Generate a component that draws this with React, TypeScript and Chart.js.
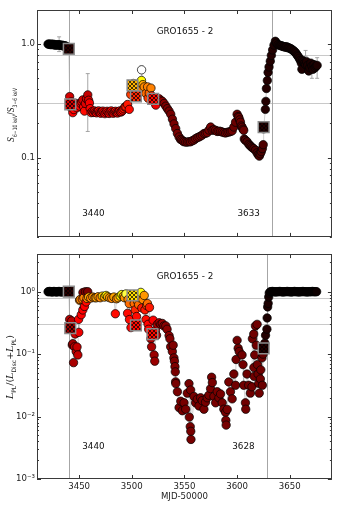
import React, { useEffect, useRef } from 'react';
import { Chart, registerables } from 'chart.js';
Chart.register(...registerables);

const FONT = "'DejaVu Sans', 'Liberation Sans', sans-serif";
const SERIF = "'DejaVu Serif', serif";

// ---------- shared axis settings ----------
const xMin = 3410;
const xMax = 3690;
const xTickValues = [3450, 3500, 3550, 3600, 3650];
const refLevels = [0.8, 0.3];
const panelTitle = 'GRO1655 - 2';
const xTitle = 'MJD-50000';

// ---------- top panel: hardness ratio ----------
const topYMin = 0.02;
const topYMax = 2;
const topMarkers = [3440, 3633];

const topMjd = [
  3420.5, 3421.3, 3422.1, 3422.9, 3423.7, 3424.5, 3425.3, 3426.1, 3426.9, 3427.7,
  3428.5, 3429.3, 3430.1, 3430.9, 3431.7, 3432.5, 3433.3, 3434.1, 3434.9, 3435.7,
  3436.5, 3437.3, 3438.1, 3438.9, 3440.2, 3441.0, 3441.6, 3442.5, 3443.2, 3444.0,
  3445.0, 3446.0, 3447.0, 3448.0, 3449.0, 3450.4, 3451.5, 3452.5, 3453.5, 3454.3,
  3455.1, 3456.0, 3457.0, 3458.2, 3459.0, 3459.8, 3460.5, 3461.4, 3462.5, 3463.5,
  3464.5, 3465.5, 3466.5, 3467.5, 3468.5, 3469.5, 3470.5, 3471.5, 3472.5, 3473.5,
  3474.5, 3475.5, 3476.5, 3477.5, 3478.5, 3479.5, 3480.5, 3481.5, 3482.5, 3483.5,
  3484.5, 3485.5, 3486.5, 3487.5, 3488.5, 3489.5, 3490.5, 3491.5, 3492.5, 3493.5,
  3494.5, 3496.0, 3497.6, 3499.0, 3500.0, 3500.7, 3501.5, 3502.5, 3503.9, 3505.0,
  3506.0, 3507.1, 3508.0, 3509.2, 3509.3, 3510.5, 3511.8, 3513.4, 3515.0, 3515.5,
  3516.6, 3518.2, 3519.0, 3520.3, 3521.5, 3522.8, 3524.3, 3526.0, 3527.5, 3529.1,
  3530.7, 3532.3, 3533.8, 3535.4, 3537.0, 3538.6, 3540.1, 3541.7, 3543.3, 3544.9,
  3546.2, 3547.4, 3548.6, 3549.6, 3551.2, 3552.8, 3554.4, 3555.9, 3557.5, 3559.1,
  3560.6, 3562.2, 3563.8, 3565.4, 3567.0, 3568.6, 3570.1, 3571.7, 3573.3, 3574.9,
  3576.4, 3578.0, 3579.6, 3581.1, 3582.7, 3584.3, 3585.9, 3587.5, 3589.1, 3590.6,
  3592.2, 3593.8, 3595.3, 3596.9, 3598.5, 3600.0, 3601.0, 3601.6, 3602.4, 3603.2,
  3604.0, 3604.8, 3605.6, 3606.3, 3606.8, 3607.8, 3609.5, 3611.1, 3612.2, 3613.3,
  3614.5, 3615.8, 3617.4, 3619.0, 3620.0, 3621.1, 3622.0, 3623.0, 3624.0, 3624.8,
  3625.2, 3626.8, 3627.3, 3627.8, 3628.7, 3629.4, 3630.3, 3631.5, 3632.5, 3633.7,
  3635.0, 3636.3, 3637.5, 3638.8, 3640.0, 3641.0, 3642.0, 3643.0, 3644.0, 3645.0,
  3646.0, 3647.0, 3648.0, 3649.0, 3650.0, 3651.0, 3652.0, 3653.0, 3654.0, 3655.0,
  3656.0, 3657.0, 3658.0, 3659.0, 3660.0, 3661.0, 3661.5, 3662.0, 3663.0, 3664.0,
  3665.0, 3666.0, 3667.0, 3668.0, 3669.0, 3670.0, 3671.0, 3672.0, 3673.0, 3674.0,
  3675.0, 3676.0,
];
const topRatio = [
  1.00, 1.00, 1.00, 0.99, 1.00, 0.99, 1.00, 0.99, 0.98, 0.99,
  0.98, 0.99, 0.98, 0.99, 0.98, 0.98, 0.97, 0.98, 0.97, 0.96,
  0.97, 0.96, 0.95, 0.94, 0.91, 0.345, 0.294, 0.31, 0.27, 0.249,
  0.265, 0.285, 0.30, 0.275, 0.29, 0.284, 0.30, 0.31, 0.323, 0.28,
  0.257, 0.30, 0.33, 0.357, 0.32, 0.303, 0.27, 0.249, 0.255, 0.25,
  0.258, 0.252, 0.248, 0.255, 0.258, 0.25, 0.246, 0.252, 0.257, 0.25,
  0.244, 0.25, 0.256, 0.25, 0.245, 0.252, 0.258, 0.25, 0.246, 0.252,
  0.256, 0.25, 0.247, 0.253, 0.258, 0.252, 0.255, 0.262, 0.27, 0.28,
  0.28, 0.294, 0.266, 0.36, 0.40, 0.434, 0.45, 0.38, 0.346, 0.37,
  0.42, 0.39, 0.46, 0.479, 0.594, 0.44, 0.42, 0.368, 0.42, 0.334,
  0.37, 0.41, 0.35, 0.33, 0.31, 0.29, 0.32, 0.33, 0.32, 0.313,
  0.30, 0.284, 0.27, 0.257, 0.241, 0.218, 0.198, 0.180, 0.163, 0.152,
  0.145, 0.143, 0.14, 0.138, 0.137, 0.137, 0.138, 0.138, 0.141, 0.143,
  0.147, 0.150, 0.152, 0.155, 0.158, 0.163, 0.164, 0.166, 0.175, 0.186,
  0.174, 0.176, 0.174, 0.17, 0.171, 0.17, 0.168, 0.166, 0.165, 0.167,
  0.168, 0.17, 0.172, 0.186, 0.205, 0.241, 0.23, 0.226, 0.215, 0.205,
  0.19, 0.185, 0.178, 0.174, 0.146, 0.142, 0.138, 0.131, 0.128, 0.125,
  0.122, 0.12, 0.116, 0.11, 0.106, 0.103, 0.108, 0.113, 0.12, 0.13,
  0.18, 0.266, 0.313, 0.406, 0.478, 0.563, 0.629, 0.708, 0.796, 0.889,
  0.98, 1.06, 1.02, 0.99, 0.98, 0.97, 0.97, 0.96, 0.95, 0.95,
  0.94, 0.95, 0.93, 0.93, 0.92, 0.91, 0.90, 0.88, 0.87, 0.85,
  0.83, 0.80, 0.78, 0.75, 0.72, 0.68, 0.60, 0.72, 0.70, 0.68,
  0.66, 0.70, 0.65, 0.58, 0.62, 0.68, 0.64, 0.60, 0.66, 0.62,
  0.64, 0.65,
];
const topHeat = [
  0, 0, 0, 0, 0, 0, 0, 0, 0, 0,
  0, 0, 0, 0, 0, 0, 0, 0, 0, 0,
  0, 0, 0, 0, 0.08, 0.30, 0.30, 0.35, 0.36, 0.36,
  0.37, 0.36, 0.33, 0.37, 0.36, 0.37, 0.34, 0.32, 0.30, 0.36,
  0.38, 0.32, 0.30, 0.28, 0.32, 0.35, 0.37, 0.38, 0.37, 0.38,
  0.37, 0.38, 0.36, 0.37, 0.38, 0.37, 0.36, 0.38, 0.37, 0.38,
  0.36, 0.37, 0.38, 0.37, 0.36, 0.38, 0.37, 0.38, 0.36, 0.37,
  0.38, 0.37, 0.36, 0.38, 0.37, 0.38, 0.37, 0.38, 0.39, 0.40,
  0.40, 0.40, 0.38, 0.45, 0.52, 0.62, 0.68, 0.50, 0.42, 0.50,
  0.58, 0.55, 0.68, 0.72, 1.0, 0.60, 0.56, 0.52, 0.55, 0.45,
  0.50, 0.55, 0.42, 0.38, 0.36, 0.34, 0.30, 0.26, 0.22, 0.20,
  0.19, 0.18, 0.18, 0.17, 0.17, 0.17, 0.17, 0.17, 0.17, 0.17,
  0.17, 0.17, 0.17, 0.17, 0.17, 0.17, 0.17, 0.17, 0.17, 0.17,
  0.17, 0.17, 0.17, 0.17, 0.17, 0.17, 0.17, 0.17, 0.17, 0.17,
  0.17, 0.17, 0.17, 0.17, 0.17, 0.17, 0.17, 0.17, 0.17, 0.17,
  0.16, 0.16, 0.16, 0.15, 0.15, 0.15, 0.15, 0.15, 0.15, 0.15,
  0.15, 0.15, 0.15, 0.15, 0.11, 0.11, 0.11, 0.11, 0.11, 0.11,
  0.11, 0.11, 0.11, 0.11, 0.11, 0.11, 0.11, 0.11, 0.11, 0.11,
  0.05, 0.05, 0.05, 0.05, 0.05, 0.05, 0.05, 0.05, 0.05, 0.05,
  0.04, 0.04, 0.04, 0.04, 0.04, 0.04, 0.04, 0.04, 0.04, 0.04,
  0.04, 0.04, 0.04, 0.04, 0.04, 0.04, 0.04, 0.04, 0.04, 0.04,
  0.04, 0.04, 0.04, 0.04, 0.04, 0.04, 0.04, 0.04, 0.04, 0.04,
  0.04, 0.04, 0.04, 0.04, 0.04, 0.04, 0.04, 0.04, 0.04, 0.04,
  0.04, 0.04,
];
const topSqMjd = [3440.2, 3441.6, 3500.7, 3503.9, 3520.3, 3625.2];
const topSqVal = [0.91, 0.294, 0.434, 0.346, 0.33, 0.186];
const topSqHeat = [0.06, 0.30, 0.62, 0.42, 0.38, 0.05];
const topErrMjd = [3431.0, 3458.2, 3509.3, 3625.2, 3665.0, 3671.0, 3676.0];
const topErrLo = [0.86, 0.17, 0.56, 0.165, 0.78, 0.50, 0.50];
const topErrHi = [1.16, 0.55, 0.64, 0.20, 0.88, 0.66, 0.76];

// ---------- bottom panel: power-law fraction ----------
const botYMin = 0.001;
const botYMax = 4;
const botMarkers = [3440, 3628];

const botMjd = [
  3420.5, 3421.3, 3422.1, 3422.9, 3423.7, 3424.5, 3425.3, 3426.1, 3426.9, 3427.7,
  3428.5, 3429.3, 3430.1, 3430.9, 3431.7, 3432.5, 3433.3, 3434.1, 3434.9, 3435.7,
  3436.5, 3437.3, 3438.1, 3438.9, 3440.2,
  3441.0, 3441.6, 3442.2, 3443.0, 3443.5, 3444.0, 3444.7, 3445.6, 3446.2, 3447.2,
  3448.0, 3448.8, 3449.5, 3449.7, 3450.4, 3451.0, 3452.0, 3453.0, 3453.5, 3453.6,
  3454.5, 3455.1, 3456.0, 3456.7, 3457.5, 3458.2, 3459.0, 3461.0, 3463.0, 3465.0,
  3466.2, 3468.0, 3470.0, 3472.0, 3474.0, 3475.6, 3477.0, 3479.0, 3481.0, 3483.0,
  3484.4, 3485.5, 3487.0, 3489.0, 3490.5, 3492.0, 3493.0, 3494.5, 3496.0, 3496.5,
  3497.6, 3497.8, 3499.2, 3500.0, 3500.7, 3501.5, 3502.3, 3503.2, 3503.9, 3504.5,
  3505.5, 3506.5, 3507.5, 3508.6, 3509.5, 3510.5, 3511.8, 3512.5, 3513.4, 3514.2,
  3514.9, 3515.5, 3516.0, 3516.8, 3518.1, 3518.8, 3519.6, 3520.3, 3521.2, 3521.8,
  3522.5, 3523.5, 3524.3, 3526.0, 3527.5, 3529.0, 3530.5, 3532.3, 3533.5, 3535.4,
  3536.2, 3536.9, 3538.5, 3539.3, 3540.0, 3540.5, 3541.0, 3541.3, 3541.6, 3541.8,
  3543.3, 3544.9, 3546.5, 3548.0, 3549.6, 3551.2, 3552.7, 3554.3, 3554.6, 3555.5,
  3555.9, 3556.0, 3556.2, 3559.0, 3560.6, 3562.2, 3563.8, 3565.3, 3566.9, 3568.5,
  3570.0, 3571.6, 3573.2, 3574.8, 3575.8, 3576.5, 3578.0, 3579.6, 3581.1, 3582.7,
  3584.3, 3585.9, 3587.4, 3589.0, 3589.3, 3589.6, 3590.6, 3592.1, 3593.7, 3595.3,
  3596.9, 3598.5, 3599.0, 3600.0, 3601.0, 3602.0, 3604.7, 3605.6, 3606.3, 3607.9,
  3608.2, 3609.4, 3611.0, 3612.6, 3614.1, 3614.5, 3615.8, 3615.9, 3616.2, 3616.7,
  3617.4, 3618.2, 3619.0, 3619.3, 3619.9, 3620.5, 3621.0, 3622.1, 3622.5, 3623.6,
  3624.0, 3624.6, 3625.2, 3626.3, 3627.0, 3628.3, 3628.5, 3629.0, 3629.5, 3630.0,
  3630.5, 3631.5, 3632.5, 3633.5, 3634.5, 3635.5, 3636.5, 3637.5, 3638.5, 3639.5,
  3640.5, 3641.5, 3642.5, 3643.5, 3644.5, 3645.5, 3646.5, 3647.5, 3648.5, 3649.5,
  3650.5, 3651.5, 3652.5, 3653.5, 3654.5, 3655.5, 3656.5, 3657.5, 3658.5, 3659.5,
  3660.5, 3661.5, 3662.5, 3663.5, 3664.5, 3665.5, 3666.5, 3667.5, 3668.5, 3669.5,
  3670.5, 3671.5, 3672.5, 3673.5, 3674.5, 3675.5,
];
const botFrac = [
  1.0, 1.0, 1.01, 1.0, 1.0, 0.99, 1.0, 1.01, 1.0, 1.0,
  0.99, 1.0, 1.0, 1.01, 1.0, 1.0, 0.99, 1.0, 1.0, 1.0,
  1.0, 0.99, 1.0, 1.0, 1.0,
  0.36, 0.26, 0.30, 0.34, 0.14, 0.147, 0.073, 0.131, 0.21, 0.11,
  0.13, 0.097, 0.36, 0.223, 0.73, 0.75, 0.427, 0.76, 0.51, 0.97,
  0.80, 0.58, 1.0, 0.685, 0.78, 1.0, 0.82, 0.79, 0.82, 0.80,
  0.80, 0.83, 0.80, 0.85, 0.82, 0.87, 0.83, 0.80, 0.78, 0.82,
  0.443, 0.77, 0.80, 0.85, 0.90, 0.85, 0.80, 0.92, 0.45, 0.75,
  0.645, 0.358, 0.266, 0.86, 0.87, 0.80, 0.645, 0.51, 0.29, 0.40,
  0.70, 0.62, 0.80, 0.975, 0.55, 0.75, 0.87, 0.51, 0.358, 0.60,
  0.645, 0.30, 0.25, 0.56, 0.176, 0.131, 0.21, 0.35, 0.097, 0.077,
  0.24, 0.20, 0.30, 0.318, 0.30, 0.31, 0.283, 0.283, 0.25, 0.198,
  0.176, 0.131, 0.11, 0.139, 0.087, 0.077, 0.063, 0.052, 0.036, 0.0337,
  0.025, 0.0139, 0.0176, 0.0124, 0.0166, 0.0131, 0.0237, 0.0337, 0.0098, 0.0069,
  0.0266, 0.0058, 0.0043, 0.021, 0.0166, 0.019, 0.0148, 0.020, 0.018, 0.0131,
  0.017, 0.020, 0.022, 0.028, 0.0427, 0.035, 0.021, 0.0166, 0.025, 0.020,
  0.023, 0.0166, 0.0131, 0.0117, 0.0087, 0.0073, 0.013, 0.0358, 0.025, 0.0192,
  0.048, 0.0317, 0.082, 0.166, 0.124, 0.11, 0.097, 0.068, 0.0317, 0.0166,
  0.0131, 0.048, 0.0317, 0.0237, 0.030, 0.176, 0.21, 0.061, 0.044, 0.097,
  0.283, 0.139, 0.30, 0.068, 0.048, 0.034, 0.0237, 0.040, 0.056, 0.087,
  0.0317, 0.10, 0.124, 0.15, 0.20, 0.251, 0.38, 0.57, 0.65, 0.82,
  0.95, 1.0, 1.0, 1.01, 1.0, 1.0, 0.99, 1.0, 1.0, 1.0,
  1.01, 1.0, 1.0, 0.99, 1.0, 1.0, 1.0, 1.01, 1.0, 1.0,
  1.0, 0.99, 1.0, 1.0, 1.01, 1.0, 1.0, 1.0, 0.99, 1.0,
  1.0, 1.0, 1.01, 1.0, 1.0, 1.0, 0.99, 1.0, 1.0, 1.0,
  1.0, 1.01, 1.0, 1.0, 1.0, 1.0,
];
const botHeat = [
  0, 0, 0, 0, 0, 0, 0, 0, 0, 0,
  0, 0, 0, 0, 0, 0, 0, 0, 0, 0,
  0, 0, 0, 0, 0.08,
  0.26, 0.22, 0.24, 0.26, 0.20, 0.22, 0.24, 0.26, 0.30, 0.26,
  0.28, 0.28, 0.36, 0.34, 0.55, 0.56, 0.36, 0.52, 0.36, 0.20,
  0.55, 0.36, 0.18, 0.38, 0.55, 0.18, 0.60, 0.55, 0.58, 0.56,
  0.60, 0.58, 0.56, 0.66, 0.60, 0.72, 0.62, 0.58, 0.56, 0.60,
  0.38, 0.56, 0.60, 0.70, 0.74, 0.62, 0.58, 0.80, 0.38, 0.56,
  0.52, 0.38, 0.36, 0.70, 0.68, 0.58, 0.52, 0.42, 0.38, 0.38,
  0.55, 0.52, 0.60, 0.74, 0.40, 0.56, 0.58, 0.40, 0.38, 0.45,
  0.52, 0.37, 0.36, 0.40, 0.24, 0.24, 0.36, 0.36, 0.22, 0.22,
  0.26, 0.24, 0.26, 0.24, 0.22, 0.22, 0.20, 0.20, 0.20, 0.20,
  0.19, 0.19, 0.19, 0.18, 0.18, 0.18, 0.18, 0.17, 0.17, 0.17,
  0.17, 0.17, 0.17, 0.17, 0.17, 0.17, 0.17, 0.17, 0.17, 0.17,
  0.17, 0.17, 0.17, 0.17, 0.17, 0.17, 0.17, 0.17, 0.17, 0.17,
  0.17, 0.17, 0.17, 0.17, 0.17, 0.17, 0.17, 0.17, 0.17, 0.17,
  0.17, 0.17, 0.17, 0.17, 0.17, 0.17, 0.17, 0.17, 0.17, 0.17,
  0.16, 0.16, 0.16, 0.16, 0.16, 0.16, 0.16, 0.16, 0.16, 0.16,
  0.16, 0.16, 0.16, 0.16, 0.16, 0.16, 0.16, 0.16, 0.16, 0.16,
  0.16, 0.16, 0.16, 0.16, 0.16, 0.16, 0.16, 0.16, 0.16, 0.16,
  0.15, 0.14, 0.08, 0.06, 0.05, 0.05, 0.04, 0.04, 0.04, 0.03,
  0.03, 0.02, 0.02, 0.02, 0.02, 0.02, 0.02, 0.02, 0.02, 0.02,
  0.02, 0.02, 0.02, 0.02, 0.02, 0.02, 0.02, 0.02, 0.02, 0.02,
  0.02, 0.02, 0.02, 0.02, 0.02, 0.02, 0.02, 0.02, 0.02, 0.02,
  0.02, 0.02, 0.02, 0.02, 0.02, 0.02, 0.02, 0.02, 0.02, 0.02,
  0.02, 0.02, 0.02, 0.02, 0.02, 0.02,
];
const botSqMjd = [3440.2, 3441.6, 3500.7, 3503.9, 3519.6, 3625.2];
const botSqVal = [1.0, 0.26, 0.87, 0.29, 0.21, 0.124];
const botSqHeat = [0.06, 0.22, 0.68, 0.38, 0.38, 0.05];

// ---------- helpers ----------
function hot(c: number): string {
  const cl = (v: number) => Math.min(1, Math.max(0, v));
  const r = cl(c / 0.365);
  const g = cl((c - 0.365) / 0.365);
  const b = cl((c - 0.73) / 0.27);
  return `rgb(${Math.round(r * 255)},${Math.round(g * 255)},${Math.round(b * 255)})`;
}

function hatch(color: string): CanvasPattern | string {
  const c = document.createElement('canvas');
  c.width = 4;
  c.height = 4;
  const g = c.getContext('2d');
  if (!g) return color;
  g.fillStyle = color;
  g.fillRect(0, 0, 4, 4);
  g.strokeStyle = 'rgba(0,0,0,0.9)';
  g.lineWidth = 0.8;
  g.beginPath();
  g.moveTo(0, 0); g.lineTo(4, 4);
  g.moveTo(4, 0); g.lineTo(0, 4);
  g.stroke();
  return g.createPattern(c, 'repeat') || color;
}

type Piece = { t: string; sub?: boolean; it?: boolean };

function drawMath(ctx: CanvasRenderingContext2D, pieces: Piece[], cx: number, cy: number, size: number, subSize: number, maxW: number) {
  ctx.save();
  ctx.fillStyle = '#222';
  ctx.textBaseline = 'alphabetic';
  ctx.textAlign = 'left';
  const fontOf = (p: Piece) => (p.sub ? `${subSize}px ${FONT}` : p.it ? `italic ${size}px ${SERIF}` : `${size}px ${FONT}`);
  const widths = pieces.map((p) => { ctx.font = fontOf(p); return ctx.measureText(p.t).width; });
  const w = widths.reduce((a, b) => a + b, 0);
  ctx.translate(cx + size * 0.35, cy);
  ctx.rotate(-Math.PI / 2);
  if (w > maxW) ctx.scale(maxW / w, 1);
  let x = -w / 2;
  pieces.forEach((p, i) => {
    ctx.font = fontOf(p);
    ctx.fillText(p.t, x, p.sub ? size * 0.32 : 0);
    x += widths[i];
  });
  ctx.restore();
}

const SUP: Record<string, string> = { '-': '⁻', '0': '⁰', '1': '¹', '2': '²', '3': '³', '4': '⁴' };

interface PanelCfg {
  mjd: number[]; val: number[]; heat: number[];
  sqMjd: number[]; sqVal: number[]; sqHeat: number[];
  errMjd?: number[]; errLo?: number[]; errHi?: number[];
  yMin: number; yMax: number;
  markers: number[];
  markerLabelY: number;
  titleY: number;
  showX: boolean;
  padTop: number; padBottom: number; xHeight: number;
  tickFmt: (v: number) => string;
  yLabel: Piece[];
  yLabelX: number; yLabelY: number; yLabelSize: number; yLabelSub: number; yLabelMax: number;
}

function buildPanel(canvas: HTMLCanvasElement, cfg: PanelCfg): Chart {
  const pts = cfg.mjd.map((x, i) => ({ x, y: cfg.val[i] }));
  const cols = cfg.heat.map((h) => hot(h));
  const sq = cfg.sqMjd.map((x, i) => ({ x, y: cfg.sqVal[i] }));
  const sqFill = cfg.sqHeat.map((h) => hatch(hot(h)));

  const decor = {
    id: 'decor',
    beforeDatasetsDraw(chart: any) {
      const { ctx, chartArea: a, scales } = chart;
      const xs = scales.x, ys = scales.y;
      ctx.save();
      ctx.beginPath();
      ctx.rect(a.left, a.top, a.right - a.left, a.bottom - a.top);
      ctx.clip();
      ctx.lineWidth = 1;
      ctx.strokeStyle = '#c9c9c9';
      refLevels.forEach((h) => {
        const py = Math.round(ys.getPixelForValue(h)) + 0.5;
        ctx.beginPath(); ctx.moveTo(a.left, py); ctx.lineTo(a.right, py); ctx.stroke();
      });
      ctx.strokeStyle = '#a6a6a6';
      cfg.markers.forEach((m) => {
        const px = Math.round(xs.getPixelForValue(m)) + 0.5;
        ctx.beginPath(); ctx.moveTo(px, a.top); ctx.lineTo(px, a.bottom); ctx.stroke();
      });
      if (cfg.errMjd && cfg.errLo && cfg.errHi) {
        ctx.strokeStyle = '#9c9c9c';
        ctx.lineWidth = 0.9;
        cfg.errMjd.forEach((m, i) => {
          const px = xs.getPixelForValue(m);
          const y1 = ys.getPixelForValue(cfg.errLo![i]);
          const y2 = ys.getPixelForValue(cfg.errHi![i]);
          ctx.beginPath();
          ctx.moveTo(px, y1); ctx.lineTo(px, y2);
          ctx.moveTo(px - 2, y1); ctx.lineTo(px + 2, y1);
          ctx.moveTo(px - 2, y2); ctx.lineTo(px + 2, y2);
          ctx.stroke();
        });
      }
      ctx.restore();
    },
    afterDatasetsDraw(chart: any) {
      const { ctx, chartArea: a, scales } = chart;
      const xs = scales.x, ys = scales.y;
      ctx.save();
      ctx.strokeStyle = '#333';
      ctx.lineWidth = 1;
      xTickValues.forEach((v) => {
        const px = Math.round(xs.getPixelForValue(v)) + 0.5;
        ctx.beginPath();
        ctx.moveTo(px, a.bottom); ctx.lineTo(px, a.bottom - 4);
        ctx.moveTo(px, a.top); ctx.lineTo(px, a.top + 4);
        ctx.stroke();
      });
      const e0 = Math.floor(Math.log10(cfg.yMin));
      const e1 = Math.ceil(Math.log10(cfg.yMax));
      for (let e = e0; e <= e1; e++) {
        for (let k = 1; k <= 9; k++) {
          const v = k * Math.pow(10, e);
          if (v < cfg.yMin * 0.999 || v > cfg.yMax * 1.001) continue;
          const len = k === 1 ? 4 : 2;
          const py = Math.round(ys.getPixelForValue(v)) + 0.5;
          ctx.beginPath();
          ctx.moveTo(a.left, py); ctx.lineTo(a.left + len, py);
          ctx.moveTo(a.right, py); ctx.lineTo(a.right - len, py);
          ctx.stroke();
        }
      }
      ctx.strokeStyle = '#3a3a3a';
      ctx.lineWidth = 1;
      ctx.strokeRect(Math.round(a.left) + 0.5, Math.round(a.top) + 0.5, Math.round(a.right - a.left) - 1, Math.round(a.bottom - a.top) - 1);
      ctx.fillStyle = '#111';
      ctx.font = `8.8px ${FONT}`;
      ctx.textAlign = 'center';
      ctx.textBaseline = 'middle';
      ctx.fillText(panelTitle, xs.getPixelForValue(3550.5), ys.getPixelForValue(cfg.titleY));
      cfg.markers.forEach((m, i) => {
        const labelX = i === 0 ? m + 23.6 : m - 22;
        ctx.fillText(String(m), xs.getPixelForValue(labelX), ys.getPixelForValue(cfg.markerLabelY));
      });
      ctx.restore();
    },
    afterDraw(chart: any) {
      drawMath(chart.ctx, cfg.yLabel, cfg.yLabelX, cfg.yLabelY, cfg.yLabelSize, cfg.yLabelSub, cfg.yLabelMax);
    },
  };

  return new Chart(canvas, {
    type: 'scatter',
    data: {
      datasets: [
        {
          data: pts,
          showLine: true,
          borderColor: 'rgba(175,175,175,0.85)',
          borderWidth: 0.7,
          pointRadius: 0,
          order: 3,
        } as any,
        {
          data: pts,
          showLine: false,
          pointRadius: 4.2,
          pointBackgroundColor: cols,
          pointBorderColor: '#000',
          pointBorderWidth: 0.7,
          order: 2,
        } as any,
        {
          data: sq,
          showLine: false,
          pointStyle: 'rect',
          pointRadius: 7.6,
          pointBackgroundColor: sqFill,
          pointBorderColor: '#8c8c8c',
          pointBorderWidth: 1.5,
          order: 1,
        } as any,
      ],
    },
    options: {
      animation: false,
      responsive: false,
      events: [],
      layout: { padding: { top: cfg.padTop, right: 7, bottom: cfg.padBottom, left: 0 } },
      plugins: { legend: { display: false }, tooltip: { enabled: false } },
      scales: {
        x: {
          type: 'linear',
          min: xMin,
          max: xMax,
          display: cfg.showX,
          grid: { display: false, drawTicks: false },
          border: { display: false },
          ticks: {
            stepSize: 50,
            includeBounds: false,
            autoSkip: false,
            maxRotation: 0,
            padding: 3,
            color: '#222',
            font: { family: FONT, size: 8.6, lineHeight: 1 },
            callback: (v: any) => (xTickValues.includes(Number(v)) ? String(v) : ''),
          },
          title: {
            display: cfg.showX,
            text: xTitle,
            color: '#222',
            font: { family: FONT, size: 8.6, lineHeight: 1 },
            padding: { top: 0, bottom: 10 },
          },
          afterFit: (s: any) => { s.height = cfg.xHeight; s.paddingLeft = 0; s.paddingRight = 0; },
        },
        y: {
          type: 'logarithmic',
          min: cfg.yMin,
          max: cfg.yMax,
          grid: { display: false, drawTicks: false },
          border: { display: false },
          ticks: {
            autoSkip: false,
            padding: 2,
            color: '#222',
            font: { family: FONT, size: 8.6, lineHeight: 1 },
            callback: (v: any) => cfg.tickFmt(Number(v)),
          },
          afterFit: (s: any) => { s.width = 37; s.paddingTop = 0; s.paddingBottom = 0; },
        },
      },
    } as any,
    plugins: [decor as any],
  });
}

const isDecade = (v: number) => {
  const l = Math.log10(v);
  return Math.abs(l - Math.round(l)) < 1e-6;
};

export default function App() {
  const topRef = useRef<HTMLCanvasElement>(null);
  const botRef = useRef<HTMLCanvasElement>(null);

  useEffect(() => {
    if (!topRef.current || !botRef.current) return;
    const top = buildPanel(topRef.current, {
      mjd: topMjd, val: topRatio, heat: topHeat,
      sqMjd: topSqMjd, sqVal: topSqVal, sqHeat: topSqHeat,
      errMjd: topErrMjd, errLo: topErrLo, errHi: topErrHi,
      yMin: topYMin, yMax: topYMax,
      markers: topMarkers,
      markerLabelY: 0.0323,
      titleY: 1.28,
      showX: false,
      padTop: 10, padBottom: 1, xHeight: 0,
      tickFmt: (v) => (Math.abs(v - 1) < 1e-9 ? '1.0' : Math.abs(v - 0.1) < 1e-9 ? '0.1' : ''),
      yLabel: [
        { t: 'S', it: true }, { t: '6\u221210 keV', sub: true }, { t: '/' },
        { t: 'S', it: true }, { t: '3\u22126 keV', sub: true },
      ],
      yLabelX: 11, yLabelY: 115, yLabelSize: 9.5, yLabelSub: 6, yLabelMax: 54,
    });
    const bot = buildPanel(botRef.current, {
      mjd: botMjd, val: botFrac, heat: botHeat,
      sqMjd: botSqMjd, sqVal: botSqVal, sqHeat: botSqHeat,
      yMin: botYMin, yMax: botYMax,
      markers: botMarkers,
      markerLabelY: 0.0033,
      titleY: 1.74,
      showX: true,
      padTop: 0, padBottom: 0, xHeight: 32,
      tickFmt: (v) => {
        if (!isDecade(v)) return '';
        const e = String(Math.round(Math.log10(v)));
        return '10' + e.split('').map((ch) => SUP[ch] || ch).join('');
      },
      yLabel: [
        { t: 'L', it: true }, { t: 'PL', sub: true }, { t: '/(' },
        { t: 'L', it: true }, { t: 'Disc', sub: true }, { t: '+' },
        { t: 'L', it: true }, { t: 'PL', sub: true }, { t: ')' },
      ],
      yLabelX: 10, yLabelY: 122, yLabelSize: 9.5, yLabelSub: 6, yLabelMax: 78,
    });
    return () => { top.destroy(); bot.destroy(); };
  }, []);

  return (
    <div style={{ position: 'absolute', left: 0, top: 0, width: 341, height: 511, background: '#fff' }}>
      <canvas ref={topRef} width={341} height={246} style={{ position: 'absolute', left: 0, top: 0, width: 341, height: 246 }} />
      <canvas ref={botRef} width={341} height={266} style={{ position: 'absolute', left: 0, top: 245, width: 341, height: 266 }} />
    </div>
  );
}
